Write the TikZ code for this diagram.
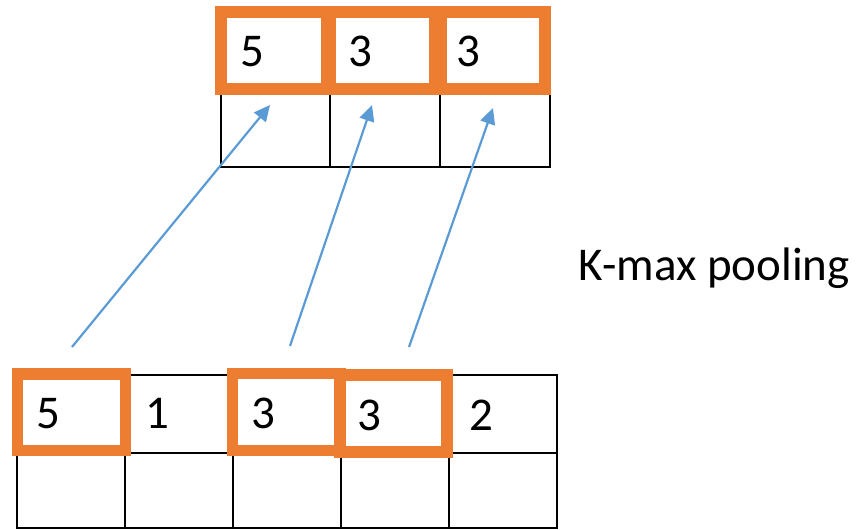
\documentclass[tikz,border=0pt]{standalone}
\usepackage{fontspec}
\setmainfont{Carlito}
\usetikzlibrary{arrows.meta}
\definecolor{korange}{HTML}{ED7D31}
\definecolor{kblue}{HTML}{5B9BD5}
\begin{document}
\begin{tikzpicture}[x=0.5pt,y=-0.5pt,
  gridline/.style={draw=black,line width=1.3pt},
  selbox/.style={draw=korange,line width=5.9pt},
  val/.style={anchor=base,inner sep=0pt,font=\fontsize{23.5}{28}\selectfont},
  lbl/.style={anchor=base west,inner sep=0pt,font=\fontsize{23.5}{28}\selectfont},
  maparrow/.style={draw=kblue,line width=1.1pt,-{Triangle[length=8pt,width=7.5pt]}}]
\useasboundingbox (0,0) rectangle (864,530);
% top grid
\draw[gridline] (221,12) rectangle (550,167);
\draw[gridline] (221,92) -- (550,92);
\draw[gridline] (330,12) -- (330,167);
\draw[gridline] (440,12) -- (440,167);
% bottom grid
\draw[gridline] (17,375) rectangle (557,528);
\draw[gridline] (17,453) -- (557,453);
\foreach \x in {125,233,341,449} \draw[gridline] (\x,375) -- (\x,528);
% orange boxes top
\draw[selbox] (221,12) rectangle (327,89);
\draw[selbox] (330,12) rectangle (435,89);
\draw[selbox] (441,12) rectangle (545,89);
% orange boxes bottom
\draw[selbox] (17.5,374) rectangle (125.5,450.5);
\draw[selbox] (232.5,373.5) rectangle (340,450.5);
\draw[selbox] (340,375) rectangle (447,452);
% values top
\node[val] (t1) at (252.5,67) {5};
\node[val] (t2) at (360.5,67) {3};
\node[val] (t3) at (468,67) {3};
% values bottom
\node[val] (b1) at (48.5,428) {5};
\node[val] (b2) at (157,428) {1};
\node[val] (b3) at (263.5,428) {3};
\node[val] (b4) at (369.5,430) {3};
\node[val] (b5) at (481.5,430) {2};
% label
\node[lbl] (kmax) at (578,280) {K-max pooling};
% arrows
\coordinate (s1) at (72,347);
\coordinate (e1) at (270,105);
\coordinate (s2) at (290,346);
\coordinate (e2) at (372,105);
\coordinate (s3) at (409,347);
\coordinate (e3) at (493,108);
\draw[maparrow] (s1) -- (e1);
\draw[maparrow] (s2) -- (e2);
\draw[maparrow] (s3) -- (e3);
\end{tikzpicture}
\end{document}
